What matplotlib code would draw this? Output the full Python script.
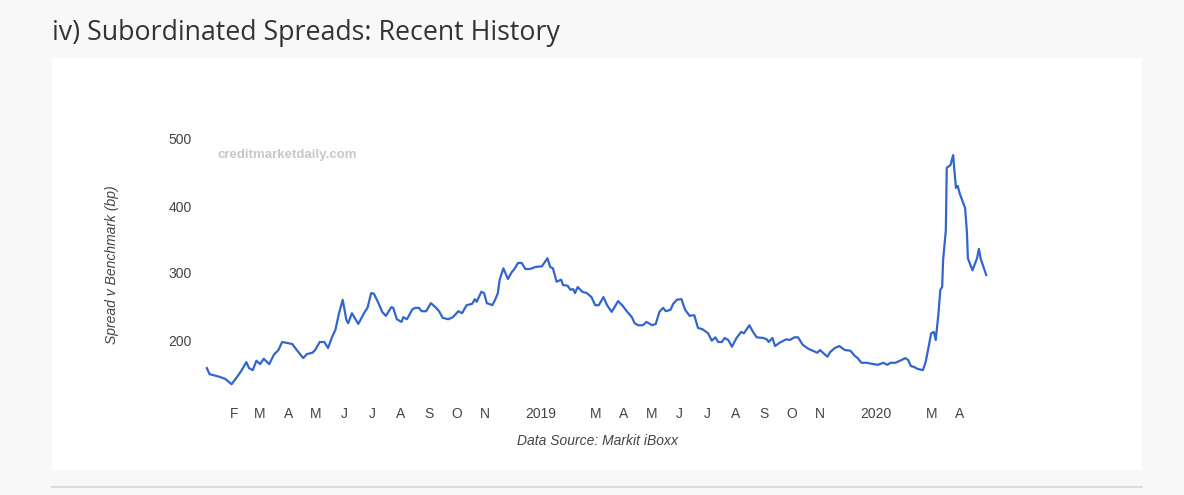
import matplotlib
matplotlib.use("Agg")
import matplotlib.pyplot as plt
from matplotlib.patches import Rectangle
from matplotlib.lines import Line2D
import pandas as pd

# Subordinated spread v benchmark (bp)
dates_2018 = [
    "01-02", "01-05", "01-16", "01-22", "01-29", "02-04", "02-09", "02-14", "02-17", "02-21",
    "02-25", "03-01", "03-05", "03-11", "03-16", "03-21", "03-25", "03-29", "04-05", "04-10",
    "04-17", "04-21", "04-27", "04-30", "05-05", "05-10", "05-14", "05-18", "05-22", "05-26",
    "05-30", "06-03", "06-05", "06-09", "06-16", "06-23", "06-26", "06-30", "07-03", "07-08",
    "07-12", "07-16", "07-22", "07-24", "07-28", "08-02", "08-04", "08-08", "08-14", "08-17",
    "08-21", "08-24", "08-29", "09-03", "09-08", "09-12", "09-16", "09-22", "09-27", "10-03",
    "10-07", "10-12", "10-18", "10-21", "10-23", "10-28", "10-31", "11-03", "11-09", "11-12",
    "11-15", "11-17", "11-21", "11-26", "11-30", "12-03", "12-07", "12-11", "12-15", "12-20",
    "12-26",
]
spread_2018 = [
    158, 149, 145, 142, 134, 145, 155, 167, 158, 155,
    169, 164, 172, 164, 178, 185, 197, 196, 194, 185,
    173, 179, 181, 185, 197, 197, 188, 203, 215, 240,
    260, 230, 225, 240, 224, 242, 248, 270, 269, 255,
    242, 236, 249, 248, 231, 227, 234, 231, 246, 248,
    248, 243, 243, 255, 249, 243, 233, 231, 234, 243,
    240, 252, 254, 261, 257, 272, 270, 255, 252, 260,
    270, 290, 307, 291, 301, 306, 315, 315, 306, 306,
    309,
]
dates_2019 = [
    "01-02", "01-08", "01-11", "01-14", "01-18", "01-23", "01-25", "01-30", "02-02", "02-05",
    "02-07", "02-10", "02-15", "02-20", "02-25", "03-01", "03-05", "03-10", "03-14", "03-19",
    "03-26", "03-31", "04-05", "04-10", "04-13", "04-17", "04-22", "04-26", "05-02", "05-06",
    "05-10", "05-14", "05-17", "05-22", "05-25", "05-29", "06-03", "06-07", "06-12", "06-17",
    "06-21", "06-26", "07-02", "07-06", "07-10", "07-13", "07-17", "07-20", "07-24", "07-28",
    "08-02", "08-07", "08-10", "08-16", "08-20", "08-24", "08-31", "09-04", "09-06", "09-10",
    "09-13", "09-18", "09-25", "09-29", "10-04", "10-08", "10-13", "10-19", "10-24", "10-29",
    "11-01", "11-09", "11-12", "11-17", "11-22", "11-28", "12-04", "12-09", "12-12", "12-16",
    "12-22", "12-29",
]
spread_2019 = [
    310, 322, 309, 307, 287, 290, 282, 281, 275, 276,
    270, 279, 272, 270, 264, 252, 252, 264, 252, 242,
    258, 251, 242, 234, 225, 222, 222, 227, 222, 224,
    242, 248, 243, 245, 254, 260, 261, 245, 236, 237,
    218, 216, 210, 199, 204, 197, 197, 203, 200, 190,
    203, 212, 210, 222, 212, 204, 203, 201, 197, 203,
    191, 196, 201, 200, 204, 204, 193, 187, 184, 181,
    185, 175, 182, 188, 191, 185, 184, 176, 173, 166,
    166, 164,
]
dates_2020 = [
    "01-03", "01-09", "01-13", "01-17", "01-22", "01-27", "02-02", "02-05", "02-08", "02-11",
    "02-15", "02-21", "02-24", "02-27", "03-01", "03-04", "03-06", "03-09", "03-11", "03-13",
    "03-14", "03-17", "03-18", "03-22", "03-25", "03-26", "03-28", "03-30", "04-01", "04-07",
    "04-09", "04-10", "04-15", "04-18", "04-20", "04-22", "04-24", "04-30",
]
spread_2020 = [
    163, 166, 163, 166, 166, 169, 173, 170, 161, 160,
    157, 155, 167, 188, 210, 212, 200, 240, 275, 279,
    319, 364, 457, 461, 476, 458, 427, 430, 419, 397,
    360, 322, 304, 315, 322, 336, 321, 297,
]

y_ticks = [200, 300, 400, 500]
x_tick_dates = pd.date_range("2018-02-01", "2020-04-01", freq="MS")
# months the chart leaves unlabelled next to the year labels
hidden_months = ["2018-12", "2019-02", "2019-12", "2020-02"]

dates = pd.to_datetime(
    ["2018-" + d for d in dates_2018]
    + ["2019-" + d for d in dates_2019]
    + ["2020-" + d for d in dates_2020]
)
spread = spread_2018 + spread_2019 + spread_2020

W, H = 1184, 495
fig = plt.figure(figsize=(W / 100, H / 100), dpi=100)
fig.patch.set_facecolor("#f8f8f8")

# white card and bottom rule
fig.patches.append(Rectangle((52 / W, 1 - 470 / H), 1090 / W, 412 / H,
                             transform=fig.transFigure, facecolor="white",
                             edgecolor="none", zorder=-5))
fig.lines.append(Line2D([52 / W, 1142 / W], [1 - 487 / H, 1 - 487 / H],
                        transform=fig.transFigure, color="#dcdcdc", lw=1.5,
                        zorder=-5))

fig.text(52 / W, 1 - 33 / H, "iv) Subordinated Spreads: Recent History",
         family="Open Sans", fontsize=19.3, color="#333333", va="center", ha="left")

ax = fig.add_axes([194.9 / W, 1 - 393.6 / H, (1000 - 194.9) / W, (393.6 - 132.3) / H])
ax.set_zorder(2)
ax.set_facecolor("none")
ax.plot(dates, spread, color="#3366cc", lw=1.6)

ax.set_xlim(pd.Timestamp("2017-12-20"), pd.Timestamp("2020-05-15"))
ax.set_ylim(120, 510)
ax.set_yticks(y_ticks)

ticks, labels = [], []
for d in x_tick_dates:
    if d.strftime("%Y-%m") in hidden_months:
        continue
    ticks.append(d)
    labels.append(str(d.year) if d.month == 1 else d.strftime("%b")[0])
ax.set_xticks(ticks)
ax.set_xticklabels(labels)

for s in ax.spines.values():
    s.set_visible(False)
ax.tick_params(axis="both", length=0, labelsize=10, colors="#444444")
ax.tick_params(axis="y", pad=2)
ax.tick_params(axis="x", pad=10)
for lab in ax.get_xticklabels() + ax.get_yticklabels():
    lab.set_family("Liberation Sans")

fig.text(112 / W, 1 - 265 / H, "Spread v Benchmark (bp)", rotation=90,
         family="Liberation Sans", style="italic", fontsize=10, color="#444444",
         ha="center", va="center")
fig.text(597 / W, 1 - 441 / H, "Data Source: Markit iBoxx",
         family="Liberation Sans", style="italic", fontsize=10, color="#444444",
         ha="center", va="center")
fig.text(217 / W, 1 - 155 / H, "creditmarketdaily.com",
         family="Liberation Sans", weight="bold", fontsize=9.5, color="#c8c8c8",
         ha="left", va="center")

fig.savefig("out.png", dpi=100, facecolor=fig.get_facecolor())
